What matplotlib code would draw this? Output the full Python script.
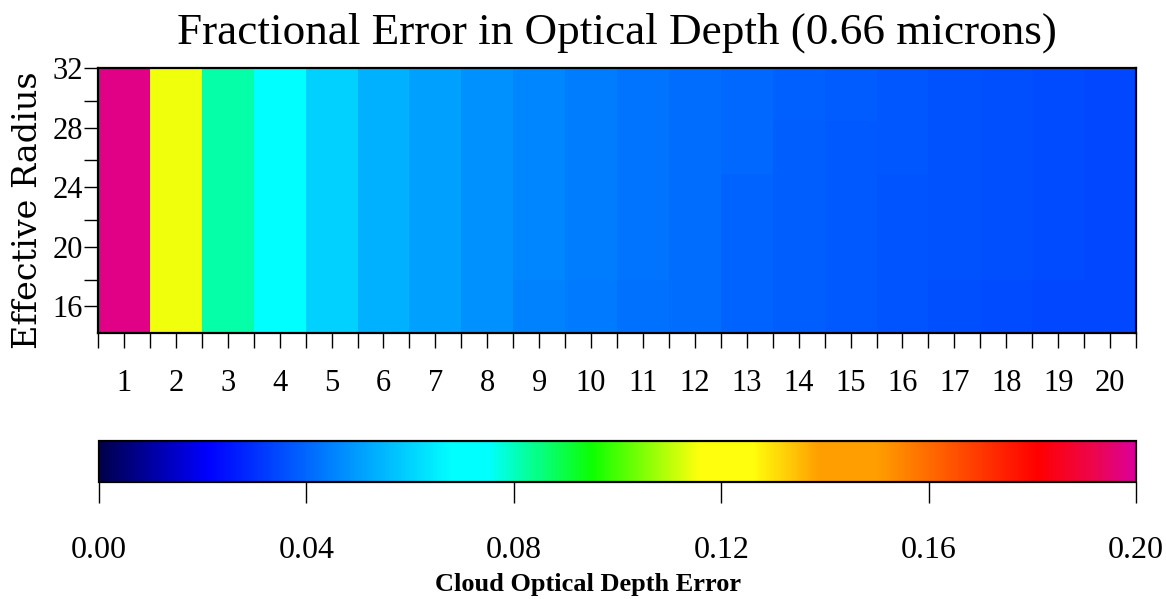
"""
Fractional error in optical depth (0.66 microns) vs. effective radius,
drawn as a cell grid with a horizontal colour bar underneath.
"""

import numpy as np
import matplotlib
matplotlib.use("Agg")
import matplotlib.pyplot as plt
from matplotlib.colors import LinearSegmentedColormap


# ─────────────────────────────────────────────
# Data
# ─────────────────────────────────────────────
optical_depth = list(range(1, 21))                 # x categories
effective_radius = [16.0, 19.55, 23.1, 26.65, 30.2]  # row centres

# one list per effective-radius row, bottom row first
err_r16 = [0.1980, 0.1145, 0.0817, 0.0712, 0.0597, 0.0538, 0.0505, 0.0477,
           0.0453, 0.0434, 0.0419, 0.0412, 0.0394, 0.0384, 0.0374, 0.0365,
           0.0357, 0.0350, 0.0343, 0.0342]
err_r20 = [0.1980, 0.1145, 0.0817, 0.0705, 0.0597, 0.0538, 0.0505, 0.0477,
           0.0459, 0.0440, 0.0425, 0.0412, 0.0394, 0.0384, 0.0374, 0.0365,
           0.0363, 0.0356, 0.0349, 0.0342]
err_r24 = [0.1980, 0.1145, 0.0817, 0.0705, 0.0597, 0.0538, 0.0505, 0.0477,
           0.0459, 0.0440, 0.0425, 0.0412, 0.0394, 0.0384, 0.0374, 0.0365,
           0.0363, 0.0356, 0.0349, 0.0342]
err_r28 = [0.1980, 0.1145, 0.0817, 0.0705, 0.0597, 0.0538, 0.0505, 0.0477,
           0.0459, 0.0440, 0.0425, 0.0412, 0.0400, 0.0384, 0.0374, 0.0371,
           0.0363, 0.0356, 0.0349, 0.0342]
err_r32 = [0.1980, 0.1145, 0.0817, 0.0705, 0.0597, 0.0538, 0.0505, 0.0477,
           0.0459, 0.0440, 0.0425, 0.0412, 0.0400, 0.0390, 0.0380, 0.0371,
           0.0363, 0.0356, 0.0349, 0.0342]

y_ticks = [16, 20, 24, 28, 32]
y_minor = [17.8, 21.8, 25.8, 29.8]
cbar_ticks = [0.00, 0.04, 0.08, 0.12, 0.16, 0.20]

# ─────────────────────────────────────────────
# Colour map: navy → blue → cyan → green → yellow → orange → red → magenta
# ─────────────────────────────────────────────
vmin, vmax = 0.0, 0.20
anchors = [
    (0.000, (0.00, 0.00, 0.30)),
    (0.021, (0.00, 0.00, 1.00)),
    (0.068, (0.00, 1.00, 1.00)),
    (0.075, (0.00, 1.00, 1.00)),
    (0.095, (0.05, 1.00, 0.00)),
    (0.116, (1.00, 1.00, 0.05)),
    (0.126, (1.00, 1.00, 0.05)),
    (0.139, (1.00, 0.62, 0.00)),
    (0.150, (1.00, 0.62, 0.00)),
    (0.181, (1.00, 0.00, 0.00)),
    (0.192, (0.93, 0.02, 0.30)),
    (0.200, (0.86, 0.00, 0.60)),
]
cmap = LinearSegmentedColormap.from_list(
    "tau_err", [((v - vmin) / (vmax - vmin), c) for v, c in anchors], N=512)

serif = ["Liberation Serif", "DejaVu Serif"]
plt.rcParams["font.family"] = serif

grid = np.array([err_r16, err_r20, err_r24, err_r28, err_r32])

fig = plt.figure(figsize=(11.66, 5.99), dpi=100)
ax = fig.add_axes([98 / 1166, 1 - 333 / 599, 1038 / 1166, 265 / 599])

mesh = ax.pcolormesh(optical_depth, effective_radius, grid, cmap=cmap,
                     vmin=vmin, vmax=vmax, shading="nearest")
ax.set_xlim(0.5, 20.5)
ax.set_ylim(14.22, 32.0)

ax.set_xticks(optical_depth)
ax.set_xticks(np.arange(0.5, 21, 1.0), minor=True)
ax.set_yticks(y_ticks)
ax.set_yticks(y_minor, minor=True)
ax.tick_params(axis="x", which="both", direction="out", length=11,
               width=1.0, pad=15, labelsize=22)
ax.tick_params(axis="y", which="both", direction="out", length=10,
               width=1.0, pad=1, labelsize=22)
for s in ax.spines.values():
    s.set_linewidth(1.6)

fig.text(617 / 1166, 1 - 33 / 599,
         "Fractional Error in Optical Depth (0.66 microns)",
         ha="center", va="center", fontsize=32.5)
fig.text(28 / 1166, 1 - 210 / 599, "Effective Radius", rotation=90,
         ha="center", va="center", fontsize=24, family=["DejaVu Serif"])

# ─────────────────────────────────────────────
# Colour bar
# ─────────────────────────────────────────────
cax = fig.add_axes([99 / 1166, 1 - 482 / 599, 1037 / 1166, 41 / 599])
cb = fig.colorbar(mesh, cax=cax, orientation="horizontal", ticks=cbar_ticks)
cb.ax.set_xticklabels([f"{t:.2f}" for t in cbar_ticks])
cb.ax.tick_params(direction="out", length=15, width=1.0, pad=24,
                  labelsize=23)
cb.outline.set_linewidth(1.6)
fig.text(588 / 1166, 1 - 584 / 599, "Cloud Optical Depth Error",
         ha="center", va="center", fontsize=19, fontweight="bold")

fig.savefig("out.png", dpi=100)
